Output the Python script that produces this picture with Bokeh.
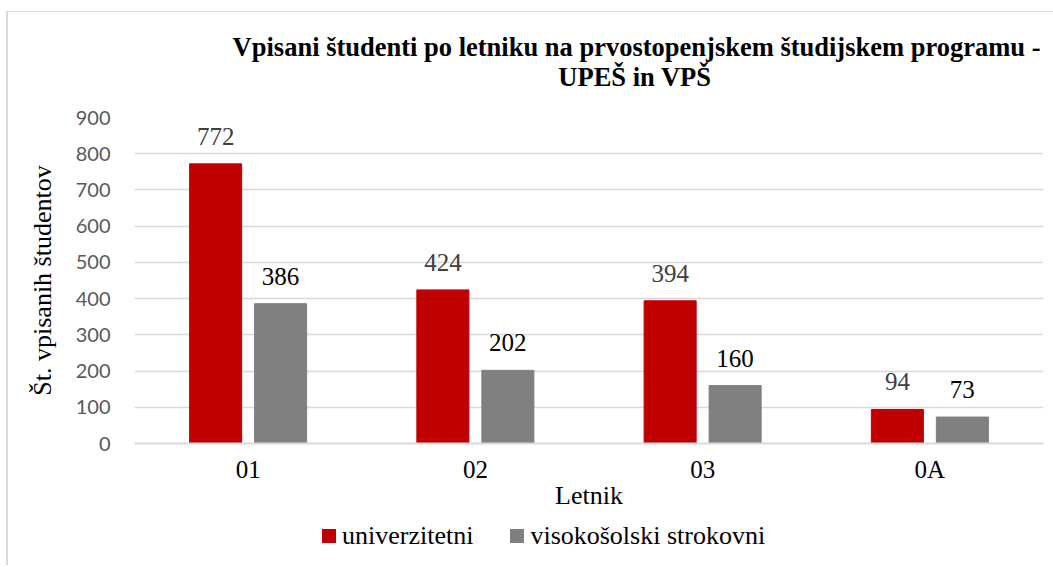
from bokeh.plotting import figure
from bokeh.models import ColumnDataSource, FactorRange, Range1d, Title, Div
from bokeh.layouts import column
from bokeh.core.properties import value
from bokeh.transform import dodge
from bokeh.embed import file_html
from bokeh.resources import INLINE

categories = ["01", "02", "03", "0A"]
univerzitetni = [772, 424, 394, 94]
visokosolski = [386, 202, 160, 73]
series_names = ["univerzitetni", "visokošolski strokovni"]
title_lines = ["Vpisani študenti po letniku na prvostopenjskem študijskem programu -", "UPEŠ in VPŠ"]
y_ticks = [0, 100, 200, 300, 400, 500, 600, 700, 800, 900]

RED = "#C00000"
GRAY = "#808080"
SERIF = "Liberation Serif"

src = ColumnDataSource(data=dict(
    cat=categories,
    u=univerzitetni,
    v=visokosolski,
    ul=[str(x) for x in univerzitetni],
    vl=[str(x) for x in visokosolski],
))

p = figure(
    x_range=FactorRange(*categories, range_padding=0),
    y_range=Range1d(0, 900),
    width=1047, height=511,
    min_border_left=126, min_border_right=12, min_border_top=105, min_border_bottom=80,
    output_backend="svg", toolbar_location=None,
)
p.outline_line_color = None
p.title.visible = False

off = 0.143
w = 0.229
r1 = p.vbar(x=dodge("cat", -off, range=p.x_range), top="u", width=w, source=src,
            fill_color=RED, line_color=RED)
r2 = p.vbar(x=dodge("cat", off, range=p.x_range), top="v", width=w, source=src,
            fill_color=GRAY, line_color=GRAY)

p.text(x=dodge("cat", -off, range=p.x_range), y="u", text="ul", source=src,
       text_align="center", text_baseline="bottom", y_offset=-19,
       text_font=value(SERIF), text_font_size="25px", text_color="#404040")
p.text(x=dodge("cat", off, range=p.x_range), y="v", text="vl", source=src,
       text_align="center", text_baseline="bottom", y_offset=-19,
       text_font=value(SERIF), text_font_size="25px", text_color="#000000")

# title (two lines, nearest-to-frame first)
t2 = Title(text=title_lines[1], align="right", offset=332, standoff=52,
           text_font=SERIF, text_font_size="26.5px", text_font_style="bold", text_color="#000000")
t1 = Title(text=title_lines[0], align="right", offset=3, standoff=-56,
           text_font=SERIF, text_font_size="26.5px", text_font_style="bold", text_color="#000000")
p.add_layout(t2, "above")
p.add_layout(t1, "above")

# axes
p.yaxis.ticker = y_ticks
p.yaxis.axis_line_color = None
p.yaxis.major_tick_line_color = None
p.yaxis.minor_tick_line_color = None
p.yaxis.major_label_text_font = "Lato"
p.yaxis.major_label_text_font_size = "20px"
p.yaxis.major_label_text_color = "#595959"
p.yaxis.major_label_standoff = 18
p.yaxis.axis_label = "Št. vpisanih študentov"
p.yaxis.axis_label_text_font = SERIF
p.yaxis.axis_label_text_font_size = "26px"
p.yaxis.axis_label_text_font_style = "normal"
p.yaxis.axis_label_text_color = "#000000"
p.yaxis.axis_label_standoff = 16

p.xaxis.axis_line_color = "#d9d9d9"
p.xaxis.axis_line_width = 2
p.xaxis.major_tick_line_color = None
p.xaxis.minor_tick_line_color = None
p.xaxis.major_label_text_font = SERIF
p.xaxis.major_label_text_font_size = "25px"
p.xaxis.major_label_text_color = "#000000"
p.xaxis.major_label_standoff = 6
p.xaxis.axis_label = "Letnik"
p.xaxis.axis_label_text_font = SERIF
p.xaxis.axis_label_text_font_size = "26px"
p.xaxis.axis_label_text_font_style = "normal"
p.xaxis.axis_label_text_color = "#000000"
p.xaxis.axis_label_standoff = -5

p.xgrid.grid_line_color = None
p.ygrid.grid_line_color = "#d9d9d9"
p.ygrid.grid_line_width = 1.5

# legend as HTML row below the plot
items_html = []
for name, col, gap in zip(series_names, [RED, GRAY], [0, 37]):
    items_html.append(
        f'<span style="display:inline-flex;align-items:center;margin-left:{gap}px;">'
        f'<span style="display:inline-block;width:14px;height:14px;background:{col};margin-right:6px;"></span>'
        f'<span>{name}</span></span>'
    )
legend_div = Div(
    text="".join(items_html),
    width=1047, height=32,
    styles={"font-family": SERIF, "font-size": "26px", "color": "#000000",
            "line-height": "14px", "padding-left": "309px", "white-space": "nowrap"},
)

layout = column(p, legend_div, spacing=0, margin=(11, 0, 0, 6),
                styles={"border-left": "2px solid #d9d9d9", "border-top": "1px solid #d9d9d9"})

open("out.html", "w").write(file_html(layout, INLINE))
